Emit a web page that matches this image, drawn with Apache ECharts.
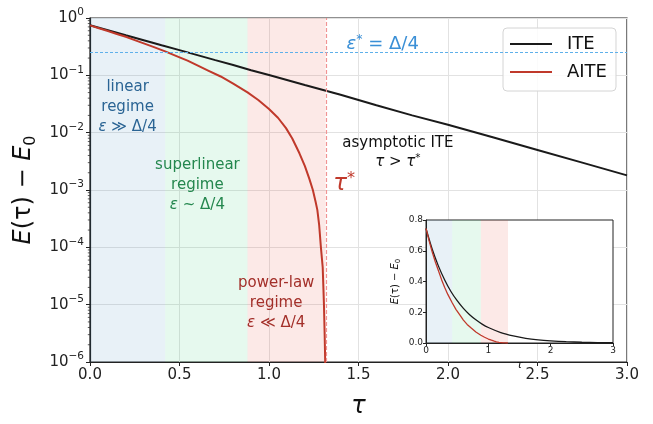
<!DOCTYPE html>
<html><head><meta charset="utf-8">
<script src="https://cdn.jsdelivr.net/npm/echarts@6/dist/echarts.min.js"></script>
<style>html,body{margin:0;padding:0;background:#fff}#c{width:653px;height:424px}</style>
</head><body><div id="c"></div>
<script>
// ---- data ----
const tauITE = [0, 0.1, 0.2, 0.3, 0.4, 0.5, 0.6, 0.7, 0.8, 0.9, 1.0, 1.2, 1.4, 1.6, 1.8, 2.0, 2.25, 2.5, 2.75, 3.0];
const ite    = [0.745, 0.61, 0.50, 0.41, 0.335, 0.275, 0.225, 0.184, 0.151, 0.123, 0.101, 0.068, 0.046, 0.030, 0.020, 0.0137, 0.0083, 0.0050, 0.0030, 0.0018];
const tauAITE = [0, 0.05, 0.1, 0.15, 0.2, 0.25, 0.3, 0.35, 0.42, 0.48, 0.545, 0.6, 0.66, 0.73, 0.8, 0.88, 0.94, 1.0, 1.05, 1.095, 1.13, 1.17, 1.2, 1.225, 1.245, 1.26, 1.27, 1.28, 1.29, 1.3, 1.307, 1.311, 1.314, 1.317];
const aite    = [0.745, 0.664, 0.592, 0.527, 0.47, 0.412, 0.361, 0.316, 0.262, 0.219, 0.181, 0.149, 0.121, 0.0955, 0.0716, 0.0504, 0.0372, 0.0259, 0.0182, 0.0120, 0.0079, 0.00437, 0.00263, 0.00158, 0.0010, 0.00063, 0.00045, 0.00025, 0.0001, 0.000045, 0.00001, 0.000003, 0.000001, 0.0000001];
const regimeEdges = [0, 0.42, 0.88, 1.316];   // linear | superlinear | power-law
const tauStar = 1.316;
const epsStar = 0.25;
const xTicks = [0, 0.5, 1.0, 1.5, 2.0, 2.5, 3.0];
const yTickExponents = [-6, -5, -4, -3, -2, -1, 0];
const insetXTicks = [0, 1, 2, 3];
const insetYTicks = [0.0, 0.2, 0.4, 0.6, 0.8];
const legendNames = ['ITE', 'AITE'];

// ---- styles ----
const FONT = 'DejaVu Sans';
const BLACK = '#1a1a1a', RED = '#c0392b';
const regionColors = ['rgba(31,119,180,0.10)', 'rgba(46,204,113,0.12)', 'rgba(231,76,60,0.12)'];

const pairs = (xs, ys) => xs.map((x, i) => [x, ys[i]]);
const minorVals = [];
for (let e = -6; e < 0; e++) for (let m = 2; m <= 9; m++) minorVals.push([0, m * Math.pow(10, e)]);

const regionAreas = regimeEdges.slice(0, 3).map((a, i) => [
  { xAxis: a, itemStyle: { color: regionColors[i] } }, { xAxis: regimeEdges[i + 1] }
]);

const supRich = {
  b: { fontSize: 15, lineHeight: 22, fontFamily: FONT, color: '#222' },
  s: { fontSize: 10.5, lineHeight: 12, verticalAlign: 'top', fontFamily: FONT, color: '#222' }
};

function ann(x, y, text, color, size, lh) {
  return {
    value: [x, y],
    itemStyle: { opacity: 0 },
    label: {
      show: true, position: 'inside', formatter: text, color: color, fontSize: size, opacity: 1,
      fontFamily: FONT, lineHeight: lh, align: 'center', textBorderWidth: 0,
      rich: {
        i: { fontStyle: 'italic', fontSize: size, color: color, fontFamily: FONT, lineHeight: lh },
        s: { fontSize: size * 0.7, color: color, fontFamily: FONT, verticalAlign: 'top', lineHeight: lh * 0.6 }
      }
    }
  };
}
const annotations = [
  ann(0.21, 0.0275, 'linear\nregime\n{i|ε} ≫ Δ/4', '#2a6494', 15, 20),
  ann(0.60, 0.0012, 'superlinear\nregime\n{i|ε} ~ Δ/4', '#24874e', 15, 20),
  ann(1.04, 0.0000105, 'power-law\nregime\n{i|ε} ≪ Δ/4', '#a3302a', 15, 20),
  ann(1.72, 0.0044, 'asymptotic ITE\n{i|τ} > {i|τ}{s|*}', '#111', 15, 19),
  ann(1.42, 0.00127, '{i|τ}{s|*}', RED, 23, 26),
  ann(1.635, 0.35, '{i|ε}{s|*} = Δ/4', '#3a8fd6', 18, 22)
];

const chart = echarts.init(document.getElementById('c'));
chart.setOption({
  animation: false,
  textStyle: { fontFamily: FONT },
  grid: [
    { left: 90, right: 26, top: 18, bottom: 48, show: true, borderColor: '#222', borderWidth: 1.2, backgroundColor: 'transparent', z: 0 },
    { left: 426, top: 220, width: 187, height: 123, show: true, borderColor: '#222', borderWidth: 1, backgroundColor: '#fff', z: 1 }
  ],
  legend: {
    data: legendNames.map(n => ({ name: n, icon: 'rect' })),
    orient: 'vertical', left: 503, top: 28,
    itemWidth: 42, itemHeight: 2, itemGap: 8,
    padding: [6, 9, 9, 7],
    borderColor: '#d4d4d4', borderWidth: 1, borderRadius: 4, backgroundColor: 'rgba(255,255,255,0.85)',
    textStyle: { fontSize: 18, color: '#111', fontFamily: FONT, lineHeight: 20, padding: [0, 0, 0, 10] }
  },
  xAxis: [
    {
      type: 'value', gridIndex: 0, min: 0, max: 3, interval: 0.5,
      name: 'τ', nameLocation: 'middle', nameGap: 33,
      nameTextStyle: { fontSize: 24, fontStyle: 'italic', color: '#111', fontFamily: FONT },
      axisLine: { show: true, onZero: false, lineStyle: { color: '#222', width: 1.2 } },
      axisTick: { show: true, inside: false, length: 4, lineStyle: { color: '#222' } },
      axisLabel: { fontSize: 15, color: '#222', margin: 6, formatter: v => xTicks.includes(v) ? v.toFixed(1) : '' },
      splitLine: { show: true, lineStyle: { color: '#e2e2e2', width: 1 } }
    },
    {
      type: 'value', gridIndex: 1, min: 0, max: 3, interval: 1, z: 3,
      name: 'τ', nameLocation: 'middle', nameGap: 17,
      nameTextStyle: { fontSize: 11, fontStyle: 'italic', color: '#111', fontFamily: FONT },
      axisLine: { show: true, onZero: false, lineStyle: { color: '#222', width: 1 } },
      axisTick: { show: true, length: 3, lineStyle: { color: '#222' } },
      axisLabel: { fontSize: 9, color: '#222', margin: 3, formatter: v => insetXTicks.includes(v) ? String(v) : '' },
      splitLine: { show: false }
    }
  ],
  yAxis: [
    {
      type: 'log', gridIndex: 0, min: 1e-6, max: 1, logBase: 10,
      name: '{i|E}(τ) − {i|E}{u|0}', nameLocation: 'middle', nameGap: 46, nameRotate: 90,
      nameTextStyle: {
        fontSize: 24, color: '#111', fontFamily: FONT,
        rich: {
          i: { fontStyle: 'italic', fontSize: 24, fontFamily: FONT, color: '#111', lineHeight: 30 },
          u: { fontSize: 16, fontFamily: FONT, color: '#111', verticalAlign: 'bottom', lineHeight: 16 }
        }
      },
      axisLine: { show: true, lineStyle: { color: '#222', width: 1.2 } },
      axisTick: { show: true, length: 4, lineStyle: { color: '#222' } },
      axisLabel: {
        margin: 6,
        formatter: v => {
          const e = Math.round(Math.log10(v));
          if (!yTickExponents.includes(e)) return '';
          return '{b|10}{s|' + (e < 0 ? '−' + (-e) : String(e)) + '}';
        },
        rich: supRich
      },
      splitLine: { show: true, lineStyle: { color: '#e2e2e2', width: 1 } }
    },
    {
      type: 'value', gridIndex: 1, min: 0, max: 0.8, interval: 0.2, z: 3,
      name: '{i|E}(τ) − {i|E}{u|0}', nameLocation: 'middle', nameGap: 24, nameRotate: 90,
      nameTextStyle: {
        fontSize: 10, color: '#111', fontFamily: FONT,
        rich: {
          i: { fontStyle: 'italic', fontSize: 10, fontFamily: FONT, color: '#111', lineHeight: 13 },
          u: { fontSize: 7, fontFamily: FONT, color: '#111', verticalAlign: 'bottom', lineHeight: 7 }
        }
      },
      axisLine: { show: true, lineStyle: { color: '#222', width: 1 } },
      axisTick: { show: true, length: 3, lineStyle: { color: '#222' } },
      axisLabel: { fontSize: 9, color: '#222', margin: 3, formatter: v => insetYTicks.some(t => Math.abs(t - v) < 1e-9) ? v.toFixed(1) : '' },
      splitLine: { show: false }
    }
  ],
  series: [
    { // regime shading + reference lines (main)
      type: 'line', xAxisIndex: 0, yAxisIndex: 0, data: [], z: 1, silent: true,
      markArea: { silent: true, data: regionAreas },
      markLine: {
        silent: true, symbol: 'none', label: { show: false },
        data: [
          { yAxis: epsStar, lineStyle: { color: '#5fb0ea', type: [3, 2], width: 1.1, opacity: 1 } },
          { xAxis: tauStar, lineStyle: { color: '#f09494', type: [4, 2], width: 1.2, opacity: 1 } }
        ]
      }
    },
    {
      name: 'ITE', type: 'line', xAxisIndex: 0, yAxisIndex: 0, data: pairs(tauITE, ite),
      symbol: 'none', lineStyle: { color: BLACK, width: 2 }, itemStyle: { color: BLACK }, z: 3, clip: true
    },
    {
      name: 'AITE', type: 'line', xAxisIndex: 0, yAxisIndex: 0, data: pairs(tauAITE, aite),
      symbol: 'none', lineStyle: { color: RED, width: 2, join: 'round' }, itemStyle: { color: RED }, z: 3, clip: true
    },
    { // minor log ticks
      type: 'custom', xAxisIndex: 0, yAxisIndex: 0, data: minorVals, silent: true, z: 3,
      renderItem: (params, api) => {
        const p = api.coord([0, api.value(1)]);
        return { type: 'line', shape: { x1: p[0] - 2.2, y1: p[1], x2: p[0], y2: p[1] }, style: { stroke: '#333', lineWidth: 0.8 } };
      }
    },
    { // text annotations in data coordinates
      type: 'scatter', xAxisIndex: 0, yAxisIndex: 0, symbolSize: 1, silent: true, z: 4,
      itemStyle: { opacity: 1, color: 'rgba(0,0,0,0)' }, data: annotations
    },
    { // inset shading
      type: 'line', xAxisIndex: 1, yAxisIndex: 1, data: [], z: 2, silent: true,
      markArea: { silent: true, data: regionAreas }
    },
    {
      name: 'ITE inset', type: 'line', xAxisIndex: 1, yAxisIndex: 1, data: pairs(tauITE, ite),
      symbol: 'none', smooth: 0.3, lineStyle: { color: BLACK, width: 1.3 }, z: 4
    },
    {
      name: 'AITE inset', type: 'line', xAxisIndex: 1, yAxisIndex: 1, data: pairs(tauAITE, aite),
      symbol: 'none', lineStyle: { color: RED, width: 1.3 }, z: 4
    }
  ]
});
</script></body></html>
